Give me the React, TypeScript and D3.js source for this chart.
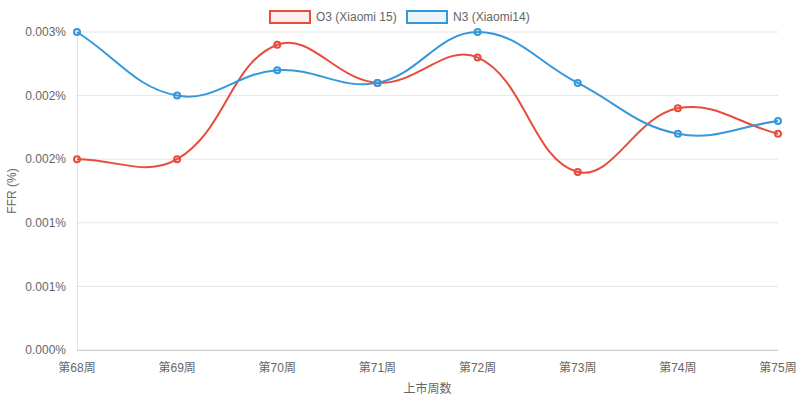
import * as d3 from "d3";
import { useMemo } from "react";

const WIDTH = 800;
const HEIGHT = 401;

const MARGIN = { top: 32, right: 22, bottom: 51, left: 77 };

// values are already in percent
const WEEKS = ["第68周", "第69周", "第70周", "第71周", "第72周", "第73周", "第74周", "第75周"];
const O3_VALUES = [0.0015, 0.0015, 0.0024, 0.0021, 0.0023, 0.0014, 0.0019, 0.0017];
const N3_VALUES = [0.0025, 0.002, 0.0022, 0.0021, 0.0025, 0.0021, 0.0017, 0.0018];
const Y_TICKS = [0, 0.0005, 0.001, 0.0015, 0.002, 0.0025];

const SERIES = [
  { name: "O3 (Xiaomi 15)", values: O3_VALUES, color: "#e74c3c", fill: "rgba(231,76,60,0.1)" },
  { name: "N3 (Xiaomi14)", values: N3_VALUES, color: "#3498db", fill: "rgba(52,152,219,0.1)" },
];

const FONT = "'Liberation Sans', Arial, 'Noto Sans CJK SC', sans-serif";
const TEXT_COLOR = "#666";

type P = { x: number; y: number };

// chart.js-like spline (tension 0.4), built with d3.path
function splinePath(pts: P[], tension = 0.4) {
  const cps = pts.map((cur, i) => {
    const prev = pts[i - 1] ?? cur;
    const next = pts[i + 1] ?? cur;
    const d01 = Math.hypot(cur.x - prev.x, cur.y - prev.y);
    const d12 = Math.hypot(next.x - cur.x, next.y - cur.y);
    let s01 = d01 / (d01 + d12);
    let s12 = d12 / (d01 + d12);
    if (isNaN(s01)) s01 = 0;
    if (isNaN(s12)) s12 = 0;
    const fa = tension * s01;
    const fb = tension * s12;
    return {
      prev: { x: cur.x - fa * (next.x - prev.x), y: cur.y - fa * (next.y - prev.y) },
      next: { x: cur.x + fb * (next.x - prev.x), y: cur.y + fb * (next.y - prev.y) },
    };
  });
  const p = d3.path();
  p.moveTo(pts[0].x, pts[0].y);
  for (let i = 1; i < pts.length; i++) {
    const a = cps[i - 1].next;
    const b = cps[i].prev;
    p.bezierCurveTo(a.x, a.y, b.x, b.y, pts[i].x, pts[i].y);
  }
  return p.toString();
}

export default function App() {
  const x0 = MARGIN.left;
  const xEnd = WIDTH - MARGIN.right;
  const y0 = HEIGHT - MARGIN.bottom;
  const y1 = MARGIN.top;

  const xScale = useMemo(() => d3.scalePoint<string>().domain(WEEKS).range([x0, xEnd]), [x0, xEnd]);
  const yScale = useMemo(() => d3.scaleLinear().domain([0, 0.0025]).range([y0, y1]), [y0, y1]);

  const lines = SERIES.map(s => {
    const pts = s.values.map((v, i) => ({ x: xScale(WEEKS[i]) ?? 0, y: yScale(v) }));
    return { ...s, pts, d: splinePath(pts) };
  });

  const legendX = [270, 407];

  return (
    <div style={{ position: "absolute", left: 0, top: 0 }}>
      <svg width={WIDTH} height={HEIGHT} style={{ display: "block", fontFamily: FONT }}>
        {/* grid */}
        {Y_TICKS.map(t => (
          <g key={t}>
            <line x1={x0} x2={xEnd} y1={yScale(t)} y2={yScale(t)} stroke="rgba(0,0,0,0.1)" />
            <text
              x={66}
              y={yScale(t)}
              dy="0.35em"
              textAnchor="end"
              fontSize={12}
              fill={TEXT_COLOR}
            >
              {t.toFixed(3)}%
            </text>
          </g>
        ))}
        <line x1={x0 + 0.5} x2={x0 + 0.5} y1={y1} y2={y0} stroke="rgba(0,0,0,0.1)" />
        <line x1={x0} x2={xEnd} y1={y0 + 0.5} y2={y0 + 0.5} stroke="rgba(0,0,0,0.15)" />

        {/* x ticks */}
        {WEEKS.map(w => (
          <text
            key={w}
            x={xScale(w)}
            y={368}
            dy="0.35em"
            textAnchor="middle"
            fontSize={12}
            fill={TEXT_COLOR}
          >
            {w}
          </text>
        ))}

        {/* axis titles */}
        <text x={(x0 + xEnd) / 2} y={389} dy="0.35em" textAnchor="middle" fontSize={12} fill={TEXT_COLOR}>
          上市周数
        </text>
        <text
          transform={`translate(12, ${(y0 + y1) / 2}) rotate(-90)`}
          dy="0.35em"
          textAnchor="middle"
          fontSize={12}
          fill={TEXT_COLOR}
        >
          FFR (%)
        </text>

        {/* lines */}
        {lines.map(s => (
          <g key={s.name}>
            <path d={s.d} fill="none" stroke={s.color} strokeWidth={2} />
            {s.pts.map((p, i) => (
              <circle key={i} cx={p.x} cy={p.y} r={3} fill={s.fill} stroke={s.color} strokeWidth={2} />
            ))}
          </g>
        ))}

        {/* legend */}
        {SERIES.map((s, i) => (
          <g key={s.name}>
            <rect x={legendX[i]} y={11} width={40} height={12} fill={s.fill} stroke={s.color} strokeWidth={2} />
            <text x={legendX[i] + 46} y={17} dy="0.35em" fontSize={12} fill={TEXT_COLOR}>
              {s.name}
            </text>
          </g>
        ))}
      </svg>
    </div>
  );
}
